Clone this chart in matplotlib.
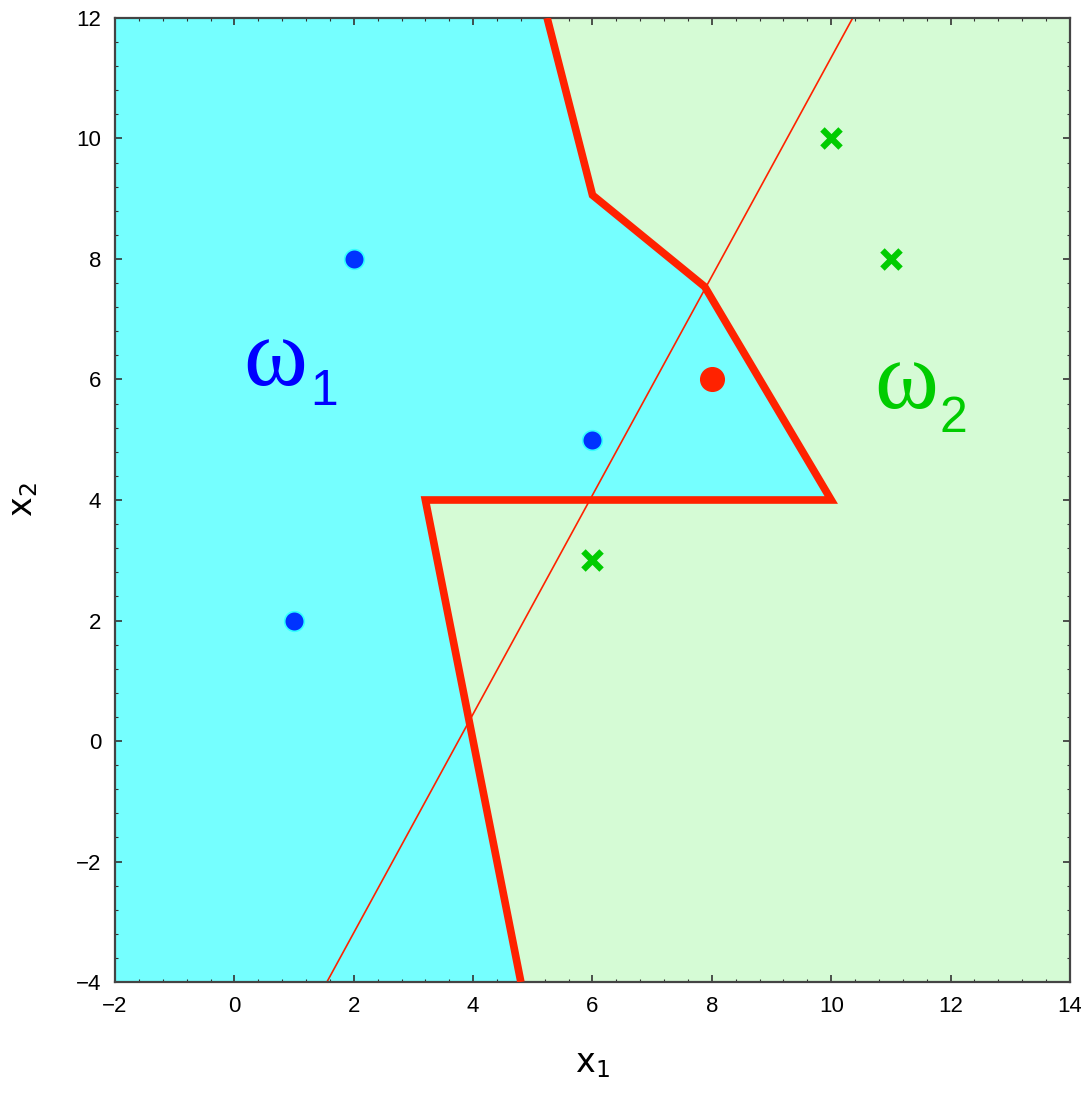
import matplotlib
matplotlib.use("Agg")
import matplotlib.pyplot as plt
from matplotlib.ticker import MultipleLocator

# class 1 samples (blue dots) and the query point (red dot)
w1_x = [1, 2, 6]
w1_y = [2, 8, 5]
query_x = [8]
query_y = [6]

# class 2 samples (green crosses)
w2_x = [6, 10, 11]
w2_y = [3, 10, 8]

# nearest-neighbour decision boundary (thick red polyline)
bound_x = [5.24, 6.0, 7.88, 10.0, 3.2, 4.8]
bound_y = [12.0, 9.06, 7.54, 4.0, 4.0, -4.0]

# linear discriminant (thin red line)
line_x = [1.55, 10.36]
line_y = [-4.0, 12.0]

XLIM = (-2, 14)
YLIM = (-4, 12)

fig = plt.figure(figsize=(10.81, 10.96), dpi=100)
ax = fig.add_axes([0.1064, 0.104, 0.8834, 0.8796])

# omega_2 region is the background, omega_1 region painted over it
ax.set_facecolor("#d5fbd5")
poly_x = [XLIM[0], XLIM[0]] + bound_x
poly_y = [YLIM[0], YLIM[1]] + bound_y
ax.fill(poly_x, poly_y, color="#75ffff", lw=0, zorder=1)

ax.plot(line_x, line_y, color="#ff2200", lw=1.2, zorder=2)
ax.plot(bound_x, bound_y, color="#ff2200", lw=5.5, zorder=3,
        solid_joinstyle="miter", solid_capstyle="butt")

ax.scatter(w1_x, w1_y, s=200, c="#0033ff", edgecolors="#33ffff",
           linewidths=1.2, zorder=4)
ax.scatter(query_x, query_y, s=290, c="#ff2200", zorder=4)
ax.scatter(w2_x, w2_y, s=170, marker="x", c="#00cc00",
           linewidths=4.5, zorder=4)

# class labels: serif omega with a sans subscript
ax.text(0.15, 5.91, "ω", color="#0000ff", fontsize=70,
        family="Liberation Serif", zorder=5)
ax.text(1.27, 5.58, "1", color="#0000ff", fontsize=36,
        family="Liberation Sans", zorder=5)
ax.text(10.72, 5.53, "ω", color="#00cc00", fontsize=70,
        family="Liberation Serif", zorder=5)
ax.text(11.82, 5.13, "2", color="#00cc00", fontsize=36,
        family="Liberation Sans", zorder=5)

ax.set_xlim(*XLIM)
ax.set_ylim(*YLIM)
ax.xaxis.set_major_locator(MultipleLocator(2))
ax.yaxis.set_major_locator(MultipleLocator(2))
ax.xaxis.set_minor_locator(MultipleLocator(0.4))
ax.yaxis.set_minor_locator(MultipleLocator(0.4))
ax.tick_params(which="both", direction="in", top=True, right=True,
               labelsize=16, color="#333333")
ax.tick_params(which="major", length=5, width=1.2, pad=10)
ax.tick_params(which="minor", length=2.5, width=0.8)
for lab in ax.get_xticklabels() + ax.get_yticklabels():
    lab.set_fontfamily("Liberation Sans")
for sp in ax.spines.values():
    sp.set_linewidth(1.6)
    sp.set_color("#444444")

ax.set_xlabel("x$_1$", fontsize=24, labelpad=22)
ax.set_ylabel("x$_2$", fontsize=24, labelpad=26)

fig.savefig("out.png", dpi=100)
